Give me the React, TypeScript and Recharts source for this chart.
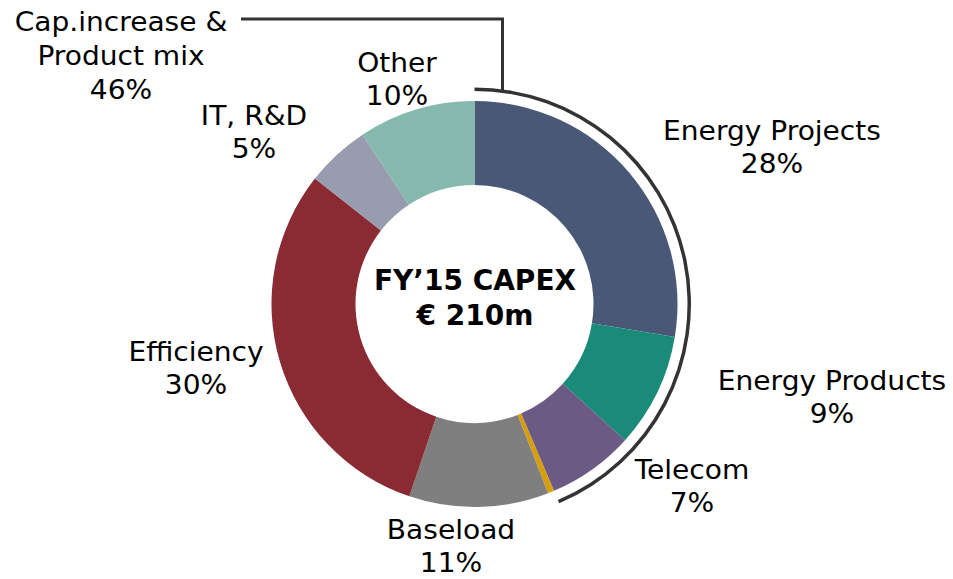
import React from 'react';
import { PieChart, Pie, Cell } from 'recharts';

// Segments, clockwise from 12 o'clock
const segmentNames = [
  'Energy Projects',
  'Energy Products',
  'Telecom',
  'Misc',
  'Baseload',
  'Efficiency',
  'IT, R&D',
  'Other',
];
const segmentValues = [27.6, 9.1, 6.9, 0.5, 11.1, 30.4, 5.1, 9.3];
const segmentLabels = ['28%', '9%', '7%', '', '11%', '30%', '5%', '10%'];
const segmentColors = [
  '#4a5878', '#1a8b79', '#6a5a84', '#d69e0c',
  '#7f7f7f', '#8a2a32', '#979dae', '#86b9ad',
];

// Grouped bracket (Cap.increase & Product mix)
const groupTitle = ['Cap.increase &', 'Product mix'];
const groupShare = '46%';
const groupMembers = ['Energy Projects', 'Energy Products', 'Telecom'];

const centerTitle = ['FY\u201915 CAPEX', '\u20ac 210m'];

// label anchors (centre of first line)
const LABEL_POS: Record<string, [number, number]> = {
  'Energy Projects': [772, 131],
  'Energy Products': [832, 381],
  Telecom: [692, 470],
  Baseload: [451, 530],
  Efficiency: [196, 352],
  'IT, R&D': [254, 116],
  Other: [397, 63],
};

const FONT = '"DejaVu Sans", Verdana, sans-serif';
const LINE = 33;
const STRETCH = 1.08; // Verdana runs a little wider than DejaVu

const pieData = segmentNames.map((name, i) => ({ name, value: segmentValues[i] }));
const total = segmentValues.reduce((a, b) => a + b, 0);
const groupValue = segmentNames
  .map((n, i) => (groupMembers.includes(n) ? segmentValues[i] : 0))
  .reduce((a, b) => a + b, 0);
const bracketData = [
  { name: 'group', value: groupValue },
  { name: 'rest', value: total - groupValue },
];

function Label({ x, y, children }: { x: number; y: number; children: React.ReactNode }) {
  return (
    <text transform={`translate(${x},${y}) scale(${STRETCH},1)`} x={0} y={0}
      textAnchor="middle" dominantBaseline="central"
      fontSize={26} fontFamily={FONT} fill="#000">{children}</text>
  );
}

function SegmentLabel(props: any) {
  const name = segmentNames[props.index];
  const pos = LABEL_POS[name];
  if (!pos || !segmentLabels[props.index]) return null;
  return (
    <g>
      <Label x={pos[0]} y={pos[1]}>{name}</Label>
      <Label x={pos[0]} y={pos[1] + LINE}>{segmentLabels[props.index]}</Label>
    </g>
  );
}

function BracketLabel(props: any) {
  if (props.index !== 0) return null;
  const { cx, cy } = props;
  const r = (props.innerRadius + props.outerRadius) / 2;
  const dx = 28;
  const y0 = cy - Math.sqrt(r * r - dx * dx);
  return (
    <g>
      <path d={`M${cx + dx},${y0} V19 H241`} fill="none" stroke="#333" strokeWidth={3} />
      {[...groupTitle, groupShare].map((t, i) => (
        <Label key={i} x={121} y={22 + i * 34}>{t}</Label>
      ))}
    </g>
  );
}

export default function App() {
  return (
    <div style={{ position: 'absolute', left: 0, top: 0, width: 953, height: 579, background: '#fff' }}>
      <PieChart width={953} height={579} margin={{ top: 0, right: 0, bottom: 0, left: 0 }}>
        <Pie
          data={pieData}
          dataKey="value"
          nameKey="name"
          cx={474.5}
          cy={304}
          innerRadius={119}
          outerRadius={203}
          startAngle={90}
          endAngle={-270}
          stroke="none"
          label={SegmentLabel}
          labelLine={false}
          isAnimationActive={false}
        >
          {pieData.map((d, i) => (
            <Cell key={d.name} fill={segmentColors[i]} />
          ))}
        </Pie>
        <Pie
          data={bracketData}
          dataKey="value"
          cx={474.5}
          cy={304}
          innerRadius={213}
          outerRadius={216.5}
          startAngle={90}
          endAngle={-270}
          stroke="none"
          label={BracketLabel}
          labelLine={false}
          isAnimationActive={false}
        >
          <Cell fill="#333" />
          <Cell fill="none" />
        </Pie>
        <text x={475} y={280} textAnchor="middle" dominantBaseline="central"
          fontSize={28} fontWeight="bold" fontFamily={FONT} fill="#000">{centerTitle[0]}</text>
        <text x={475} y={315} textAnchor="middle" dominantBaseline="central"
          fontSize={28} fontWeight="bold" fontFamily={FONT} fill="#000">{centerTitle[1]}</text>
      </PieChart>
    </div>
  );
}
